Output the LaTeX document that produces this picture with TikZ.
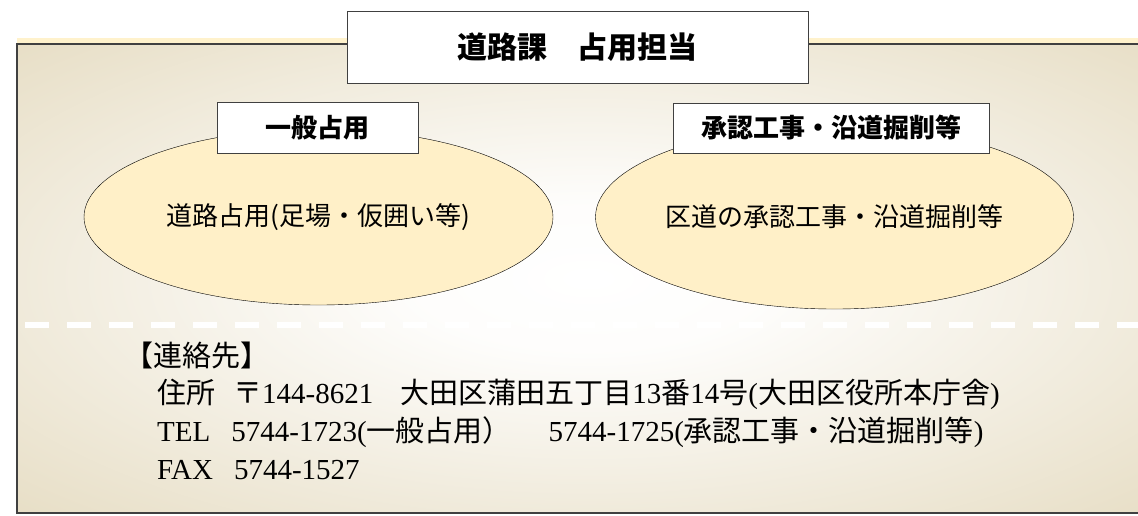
\documentclass[tikz,border=0pt]{standalone}
\usepackage{fontspec}
\newfontfamily\gothic{Noto Sans CJK JP}
\newfontfamily\latfont{Liberation Serif}
\newcommand\lat[1]{{\latfont #1}}
\usetikzlibrary{shapes.geometric}
\definecolor{paneltan}{RGB}{218,204,166}
\definecolor{panelstrip}{RGB}{255,242,204}
\definecolor{ovalfill}{RGB}{255,240,200}
\definecolor{edgegray}{RGB}{64,64,64}
\pgfdeclareradialshading{panelglow}{\pgfpoint{0bp}{0bp}}{color(0bp)=(white); color(8bp)=(white!96!paneltan); color(52bp)=(paneltan); color(90bp)=(paneltan)}

\begin{document}
\begin{tikzpicture}[x=1pt,y=-1pt,
    headbox/.style={rectangle,draw=edgegray,fill=white,inner sep=0pt,font=\gothic\bfseries\fontsize{30}{36}\selectfont},
    tagbox/.style={rectangle,draw=edgegray,fill=white,inner sep=0pt,font=\gothic\bfseries\fontsize{26}{31}\selectfont},
    oval/.style={ellipse,draw,fill=ovalfill,inner sep=0pt,font=\gothic\fontsize{26}{31}\selectfont},
    info/.style={anchor=west,inner sep=0pt,font=\gothic\fontsize{29}{35}\selectfont}
]
    \useasboundingbox (0,0) rectangle (1138,515);

    % panel
    \fill[panelstrip] (17,38) rectangle (1138,44);
    \shade[shading=panelglow,draw=edgegray,line width=1.2pt] (17,44) rectangle (1160,513);
    \coordinate (sepL) at (25,325);
    \coordinate (sepR) at (1138,325);
    \draw[white,line width=6pt,dash pattern=on 24pt off 18pt] (sepL) -- (sepR);

    \node[headbox,minimum width=461pt,minimum height=72pt] (title) at (577.5,47) {道路課　占用担当};

    \node[oval,minimum width=469pt,minimum height=176pt] (general) at (318.5,217) {道路占用(足場・仮囲い等)};
    \node[oval,minimum width=456pt,minimum height=184pt] (approval) at (834.5,217) {区道の承認工事・沿道掘削等};
    \node[tagbox,minimum width=201pt,minimum height=51pt] (generaltag) at (317.5,127.5) {一般占用};
    \node[tagbox,minimum width=316pt,minimum height=50pt] (approvaltag) at (831,128) {承認工事・沿道掘削等};

    \node[info] (contact) at (124,355) {【連絡先】};
    \node[info] (addr) at (157,394) {住所\hspace{18pt}〒\lat{144-8621}\hspace{27pt}大田区蒲田五丁目\lat{13}番\lat{14}号\lat{(}大田区役所本庁舎\lat{)}};
    \node[info] (tel) at (157,432) {\lat{TEL}\hspace{21pt}\lat{5744-1723(}一般占用）\hspace{37pt}\lat{5744-1725(}承認工事・沿道掘削等\lat{)}};
    \node[info] (fax) at (157,470) {\lat{FAX}\hspace{21pt}\lat{5744-1527}};

\end{tikzpicture}
\end{document}
